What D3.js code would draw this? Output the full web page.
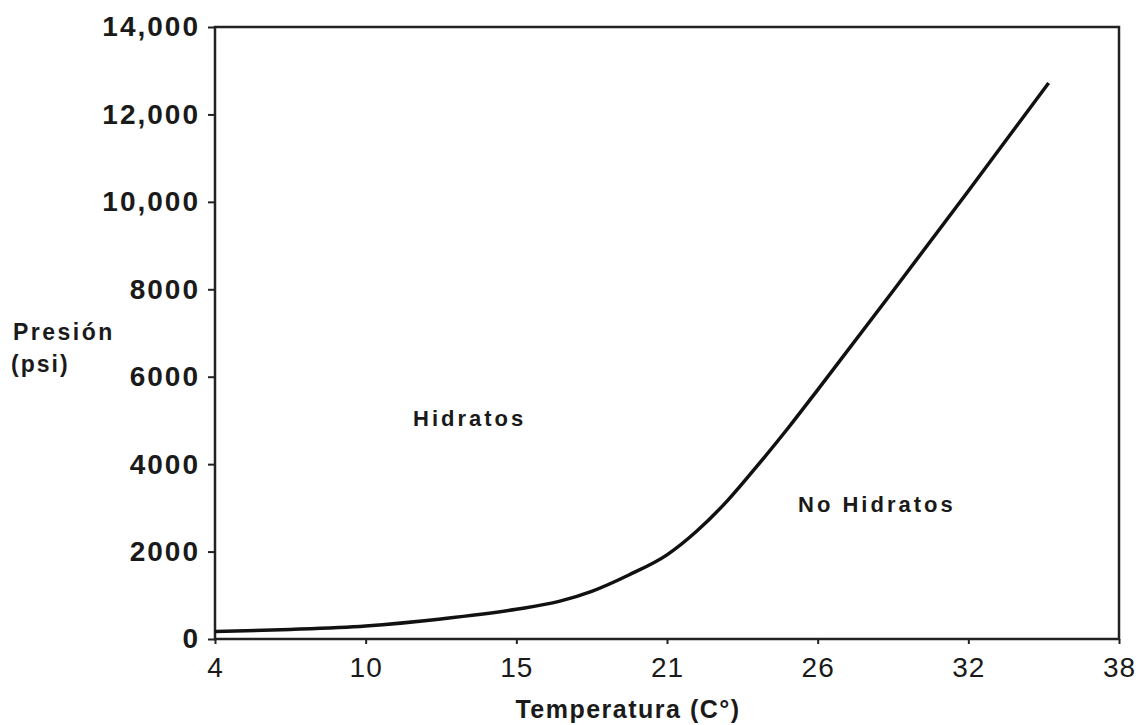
<!DOCTYPE html>
<html>
<head>
<meta charset="utf-8">
<script src="https://cdn.jsdelivr.net/npm/d3@7"></script>
<style>
  body { margin: 0; background: #fff; }
  svg { display: block; }
  text { font-family: "Liberation Sans", Arial, sans-serif; fill: #1a1a1a; }
</style>
</head>
<body>
<svg width="1141" height="725"></svg>
<script>
// temperature tick labels (C°), evenly spaced on the chart
var tempTicks = [4, 10, 15, 21, 26, 32, 38];
var presTicks = [0, 2000, 4000, 6000, 8000, 10000, 12000, 14000];
var presLabels = ["0", "2000", "4000", "6000", "8000", "10,000", "12,000", "14,000"];

// hydrate formation curve
var temps = [4, 7, 10, 12.5, 15, 16.7, 18, 19.5, 21, 22, 23, 24, 25, 26, 29, 32, 35.2];
var pres = [170, 220, 300, 460, 680, 860, 1090, 1470, 1925, 2475, 3160, 3965, 4810, 5700, 7960, 10250, 12720];

window.addEventListener("load", main);

function main() {
  var svg = d3.select("svg");
  var left = 215, right = 1119, top = 27, bottom = 639;

  // piecewise scale: the tick labels sit at equal steps
  var step = (right - left) / (tempTicks.length - 1);
  var x = d3.scaleLinear()
    .domain(tempTicks)
    .range(tempTicks.map(function(d, i) { return left + i * step; }));

  var y = d3.scaleLinear()
    .domain([0, 14000])
    .range([bottom, top]);

  // frame
  svg.append("rect")
    .attr("x", left)
    .attr("y", top)
    .attr("width", right - left)
    .attr("height", bottom - top)
    .attr("fill", "none")
    .attr("stroke", "#222")
    .attr("stroke-width", 2.5);

  var yAxis = svg.append("g")
    .attr("transform", "translate(" + left + ",0)")
    .call(d3.axisLeft(y)
      .tickValues(presTicks)
      .tickFormat(function(d, i) { return presLabels[i]; })
      .tickSize(7)
      .tickPadding(8));
  yAxis.select(".domain").remove();
  yAxis.selectAll("line").attr("stroke", "#222").attr("stroke-width", 2);
  yAxis.selectAll("text")
    .attr("font-size", 28)
    .attr("font-weight", "bold")
    .attr("letter-spacing", "2px")
    .attr("fill", "#1a1a1a")
    .style("font-family", "'Liberation Sans', Arial, sans-serif");

  var xAxis = svg.append("g")
    .attr("transform", "translate(0," + bottom + ")")
    .call(d3.axisBottom(x)
      .tickValues(tempTicks)
      .tickFormat(d3.format("d"))
      .tickSize(5)
      .tickPadding(13));
  xAxis.select(".domain").remove();
  xAxis.selectAll("line").attr("stroke", "#222").attr("stroke-width", 2);
  xAxis.selectAll("text")
    .attr("font-size", 28)
    .attr("letter-spacing", "1px")
    .attr("fill", "#1a1a1a")
    .style("font-family", "'Liberation Sans', Arial, sans-serif");

  var line = d3.line()
    .x(function(d, i) { return x(temps[i]); })
    .y(function(d) { return y(d); })
    .curve(d3.curveMonotoneX);

  svg.append("path")
    .datum(pres)
    .attr("d", line)
    .attr("fill", "none")
    .attr("stroke", "#111")
    .attr("stroke-width", 3.5);

  // labels
  svg.append("text")
    .attr("x", 13).attr("y", 340)
    .attr("font-size", 23).attr("font-weight", "bold")
    .attr("letter-spacing", "2.5px")
    .text("Presión");
  svg.append("text")
    .attr("x", 11).attr("y", 372)
    .attr("font-size", 23).attr("font-weight", "bold")
    .attr("letter-spacing", "2px")
    .text("(psi)");

  svg.append("text")
    .attr("x", 628).attr("y", 718)
    .attr("text-anchor", "middle")
    .attr("font-size", 25).attr("font-weight", "bold")
    .attr("letter-spacing", "1.5px")
    .text("Temperatura (C°)");

  svg.append("text")
    .attr("x", 413).attr("y", 426)
    .attr("font-size", 22).attr("font-weight", "bold")
    .attr("letter-spacing", "3px")
    .text("Hidratos");

  svg.append("text")
    .attr("x", 798).attr("y", 512)
    .attr("font-size", 22).attr("font-weight", "bold")
    .attr("letter-spacing", "3px")
    .text("No Hidratos");
}
</script>
</body>
</html>
